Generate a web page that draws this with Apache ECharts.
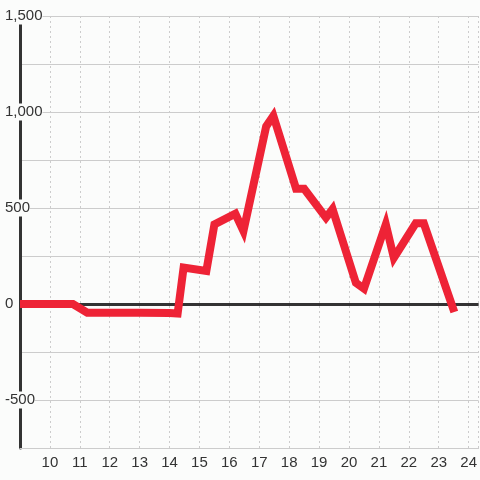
<!DOCTYPE html>
<html>
<head>
<meta charset="utf-8">
<script src="https://cdn.jsdelivr.net/npm/echarts@6/dist/echarts.min.js"></script>
<style>
html,body{margin:0;padding:0;background:#fbfcfb;}
#c{width:480px;height:480px;}
</style>
</head>
<body>
<div id="c"></div>
<script>
// Data
const xValues = [9, 10.77, 11.25, 13.0, 14.0, 14.27, 14.47, 15.23, 15.5, 16.2, 16.47, 17.23, 17.47, 18.23, 18.5, 19.23, 19.45, 20.23, 20.5, 21.23, 21.5, 22.23, 22.5, 23.52];
const yValues = [0, 0, -45, -45, -47, -50, 190, 172, 415, 470, 380, 925, 980, 600, 600, 450, 495, 110, 80, 415, 240, 420, 420, -42];
const yTickLabels = [-500, 0, 500, 1000, 1500];
const xTickLabels = [10, 11, 12, 13, 14, 15, 16, 17, 18, 19, 20, 21, 22, 23, 24];

const points = xValues.map((x, i) => [x, yValues[i]]);

const chart = echarts.init(document.getElementById('c'), null, {renderer: 'canvas'});
chart.setOption({
  backgroundColor: '#fbfcfb',
  animation: false,
  grid: {left: 20, right: 0, top: 16, bottom: 32},
  xAxis: {
    type: 'value', min: 9, max: 24.333, interval: 1,
    axisLine: {show: true, onZero: false, lineStyle: {color: '#cccccc', width: 1}},
    axisTick: {show: false},
    axisLabel: {
      fontSize: 15, color: '#333', margin: 7, fontFamily: 'Liberation Sans',
      showMaxLabel: false,
      formatter: v => xTickLabels.includes(v) ? String(v) : ''
    },
    splitLine: {show: true, lineStyle: {color: '#cccccc', width: 1, type: [2, 3]}}
  },
  yAxis: {
    type: 'value', min: -750, max: 1500, interval: 250,
    axisLine: {show: true, onZero: false, lineStyle: {color: '#333333', width: 3}},
    axisTick: {show: false},
    axisLabel: {
      fontSize: 15, color: '#333', margin: 15, align: 'left', fontFamily: 'Liberation Sans',
      backgroundColor: '#fbfcfb', padding: [2, 0, 0, 0],
      formatter: v => yTickLabels.includes(v) ? v.toLocaleString('en-US') : ''
    },
    splitLine: {show: true, lineStyle: {color: '#cccccc', width: 1}}
  },
  series: [
    {
      type: 'line', data: [], z: 1, silent: true,
      markLine: {
        symbol: 'none', silent: true, label: {show: false},
        lineStyle: {color: '#333333', width: 3, type: 'solid'},
        data: [{yAxis: 0}]
      }
    },
    {
      type: 'line', data: points, z: 5,
      showSymbol: false, symbol: 'none',
      lineStyle: {color: '#ee2336', width: 8, join: 'miter'}
    }
  ]
});
</script>
</body>
</html>
